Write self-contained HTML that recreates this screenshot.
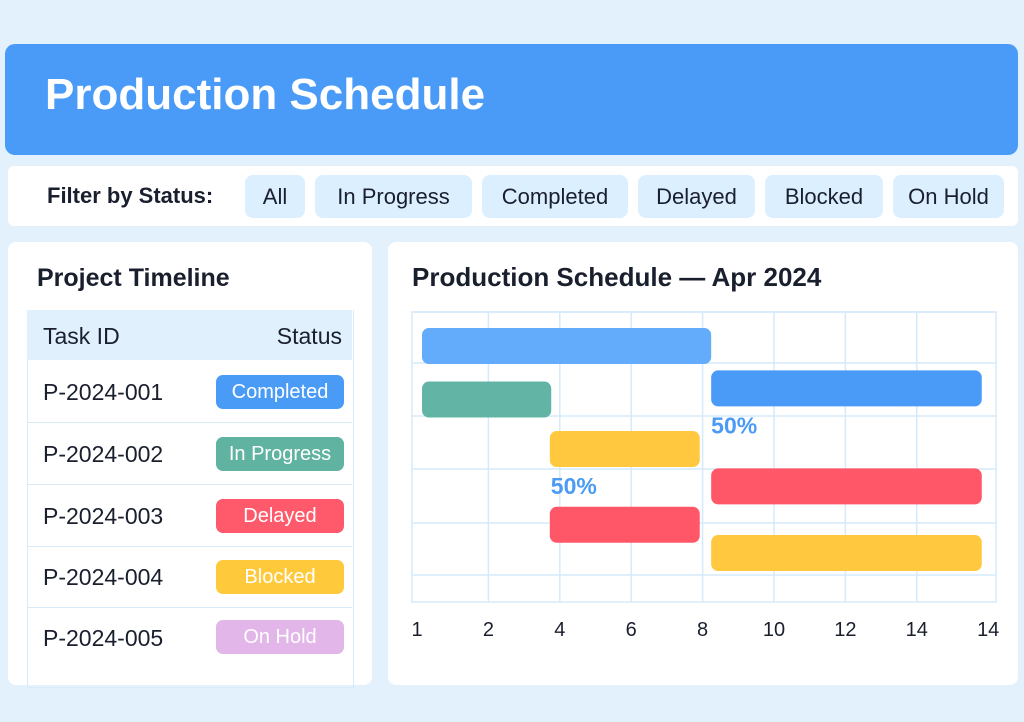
<!DOCTYPE html>
<html><head><meta charset="utf-8"><style>
body{margin:0;width:1024px;height:722px;background:#e2f1fc;font-family:"Liberation Sans",sans-serif;position:relative;overflow:hidden;color:#1a1f2e}
.abs{position:absolute}
.hdr{left:5px;top:44px;width:1013px;height:111px;background:#4a9bf8;border-radius:10px}
.hdr h1{margin:0;position:absolute;left:40px;top:26px;font-size:44px;color:#fff;font-weight:bold}
.filter{left:8px;top:166px;width:1010px;height:60px;background:#fff;border-radius:6px}
.fbtn{position:absolute;top:9px;height:43px;background:#dcefff;border-radius:8px;font-size:22px;line-height:43px;text-align:center;color:#1a1f2e}
.card{background:#fff;border-radius:8px}
.row{position:absolute;left:27px;width:325px;border-bottom:1px solid #d6eaf8;font-size:23px}
.badge{position:absolute;left:189px;width:128px;height:34px;border-radius:7px;color:#fff;font-size:20px;line-height:34px;text-align:center}
</style></head><body>
<div class="abs hdr"><h1>Production Schedule</h1></div>
<div class="abs filter">
<div class="abs" style="left:39px;top:17px;font-size:22px;font-weight:bold">Filter by Status:</div>
<div class="fbtn" style="left:237px;width:60px">All</div>
<div class="fbtn" style="left:307px;width:157px">In Progress</div>
<div class="fbtn" style="left:474px;width:146px">Completed</div>
<div class="fbtn" style="left:630px;width:117px">Delayed</div>
<div class="fbtn" style="left:757px;width:118px">Blocked</div>
<div class="fbtn" style="left:885px;width:111px">On Hold</div>
</div>
<div class="abs card" style="left:8px;top:242px;width:364px;height:443px">
<div class="abs" style="left:29px;top:22px;font-size:25px;font-weight:bold">Project Timeline</div>
<div class="abs" style="left:19px;top:68px;width:325px;height:377px;border:1px solid #d6eaf8;border-top:none"></div>
</div>
<div class="abs" style="left:27px;top:310px;width:325px;height:50px;background:#e0f0fc;font-size:23px">
<span class="abs" style="left:16px;top:13px">Task ID</span>
<span class="abs" style="right:10px;top:13px">Status</span></div>
<div class="row" style="top:362px;height:60px"><span class="abs" style="left:16px;top:17px">P-2024-001</span><div class="badge" style="top:13px;background:#4a9bf5">Completed</div></div>
<div class="row" style="top:423px;height:61px"><span class="abs" style="left:16px;top:18px">P-2024-002</span><div class="badge" style="top:14px;background:#5fb3a0">In Progress</div></div>
<div class="row" style="top:485px;height:61px"><span class="abs" style="left:16px;top:18px">P-2024-003</span><div class="badge" style="top:14px;background:#ff5a6b">Delayed</div></div>
<div class="row" style="top:547px;height:60px"><span class="abs" style="left:16px;top:17px">P-2024-004</span><div class="badge" style="top:13px;background:#ffc93c">Blocked</div></div>
<div class="row" style="top:608px;height:59px;border-bottom:none"><span class="abs" style="left:16px;top:17px">P-2024-005</span><div class="badge" style="top:12px;background:#e2b6e8">On Hold</div></div>

<div class="abs card" style="left:388px;top:242px;width:630px;height:443px">
<div class="abs" style="left:24px;top:20px;font-size:26px;font-weight:bold">Production Schedule — Apr 2024</div>
</div>
<svg class="abs" style="left:0;top:0" width="1024" height="722" id="chart"></svg>
<script>
const tickLabels=["1","2","4","6","8","10","12","14","14"];
const barStart=[0.07,4.12,0.07,1.86,4.12,1.86,4.12];
const barEnd=[4.12,7.91,1.88,3.96,7.91,3.96,7.91];
const barLane=[0,0.84,1.06,2.04,2.78,3.54,4.1];
const barColors=["#63acfb","#4a9bf8","#62b5a5","#ffc83f","#ff5768","#ff5768","#ffc83f"];
const pctLabels=["50%","50%"];
const pctIndex=[1,3];
const gridX=[1,2,3,4,5,6,7];
const gridY=[312,363,416,469,523,575];
const NS="http://www.w3.org/2000/svg";
const svg=document.getElementById('chart');
const x=i=>417+i*71.4;
const y=l=>346+l*50.5;
const H=36;
function mk(t,a){const e=document.createElementNS(NS,t);for(const k in a)e.setAttribute(k,a[k]);svg.appendChild(e);return e;}
const frame=mk('rect',{x:412,y:312,width:584,height:290,fill:'none',stroke:'#d5eafb','stroke-width':1.5});


gridX.forEach(i=>{const l=mk('line',{x1:x(i),x2:x(i),y1:312,y2:602,stroke:'#d5eafb','stroke-width':1.5});

});
gridY.forEach(v=>{const l=mk('line',{x1:412,x2:996,y1:v,y2:v,stroke:'#d5eafb','stroke-width':1.5});

});
barStart.forEach((s,i)=>{const r=mk('rect',{x:x(s),y:y(barLane[i])-H/2,width:x(barEnd[i])-x(s),height:H,rx:7,fill:barColors[i]});

});
pctIndex.forEach((bi,k)=>{const t=mk('text',{x:x(barStart[bi])+(bi===1?0:1),y:y(barLane[bi])+H/2+27,fill:'#4a9bf5','font-size':23,'font-weight':'bold','font-family':'Liberation Sans, sans-serif'});t.textContent=pctLabels[k];

});
tickLabels.forEach((s,i)=>{const t=mk('text',{x:x(i),y:636,'text-anchor':'middle',fill:'#1a1f2e','font-size':20,'font-family':'Liberation Sans, sans-serif'});t.textContent=s;

});
</script>
</body></html>
